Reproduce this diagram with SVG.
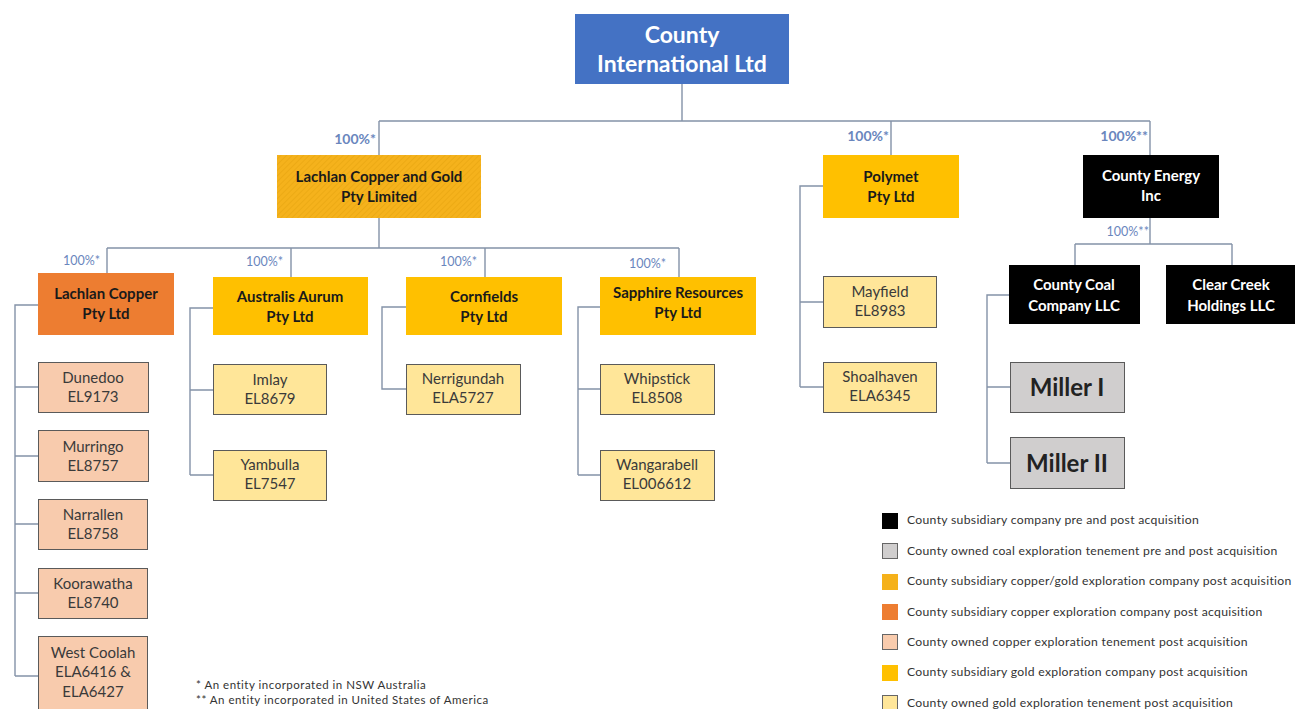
<svg xmlns="http://www.w3.org/2000/svg" width="1295" height="709" viewBox="0 0 1295 709">
<defs>
<style>
text{font-family:Lato,"Liberation Sans",sans-serif;text-anchor:middle}
.con{fill:none;stroke:#8492a8;stroke-width:1.4}
.b{font-weight:bold;font-size:15px;fill:#1a1a1a}
.w{font-weight:bold;font-size:15px;fill:#fff}
.t{font-size:15px;fill:#3a3a3a}
.pct{font-weight:bold;font-size:14px;fill:#6a86bd;text-anchor:end}
.pcs{font-size:12.5px;fill:#6a86bd;text-anchor:end}
.cu{fill:#F8CBAD;stroke:#5a5a5a;stroke-width:1}
.au{fill:#FFE699;stroke:#5a5a5a;stroke-width:1}
.co{fill:#D0CECE;stroke:#5a5a5a;stroke-width:1}
.gold{fill:#FFC000}
.blk{fill:#000}
.lg{font-size:12.2px;letter-spacing:0.3px;fill:#333;text-anchor:start}
.fn{font-size:11.5px;letter-spacing:0.5px;fill:#333;text-anchor:start}
</style>
<pattern id="hatch" width="4" height="4" patternUnits="userSpaceOnUse" patternTransform="rotate(45)">
<rect width="4" height="4" fill="#F5B21C"/>
<line x1="0" y1="0" x2="0" y2="4" stroke="#E9A712" stroke-width="1.5"/>
</pattern>
</defs>
<rect width="1295" height="709" fill="#fff"/>

<g id="connectors">
<path class="con" d="M682 84V121M379 121H1150M379 121V155M891 121V155M1150 121V155"/>
<path class="con" d="M379 218V248M107 248H679M107 248V273M291 248V277M485 248V277M679 248V277"/>
<path class="con" d="M38 305H15V676M15 387H38M15 456H38M15 524H38M15 593H38M15 676H38"/>
<path class="con" d="M213 308H190V475M190 390H213M190 475H213"/>
<path class="con" d="M406 307H382V389H406"/>
<path class="con" d="M600 307H578V475M578 389H600M578 475H600"/>
<path class="con" d="M823 186H800V387M800 302H823M800 387H823"/>
<path class="con" d="M1150 218V244M1075 244H1232M1075 244V265M1232 244V265"/>
<path class="con" d="M1009 295H987V463M987 387H1010M987 463H1010"/>
</g>

<g id="labels">
<text class="pct" x="376" y="144">100%*</text>
<text class="pct" x="889" y="141">100%*</text>
<text class="pct" x="1148" y="141">100%**</text>
<text class="pcs" x="100" y="265">100%*</text>
<text class="pcs" x="283" y="266">100%*</text>
<text class="pcs" x="477" y="266">100%*</text>
<text class="pcs" x="666" y="268">100%*</text>
<text class="pcs" x="1149" y="236">100%**</text>
</g>

<g id="county-international">
<rect x="575" y="14" width="214" height="70" fill="#4472C4"/>
<text x="682" y="43" style="font-weight:bold;font-size:23px;fill:#fff">County</text>
<text x="682" y="72" style="font-weight:bold;font-size:23px;fill:#fff">International Ltd</text>
</g>

<g id="lachlan-cg">
<rect x="277" y="155" width="204" height="63" fill="url(#hatch)"/>
<text class="b" x="379" y="182">Lachlan Copper and Gold</text>
<text class="b" x="379" y="202">Pty Limited</text>
</g>
<g id="polymet">
<rect class="gold" x="823" y="155" width="136" height="63"/>
<text class="b" x="891" y="182">Polymet</text>
<text class="b" x="891" y="202">Pty Ltd</text>
</g>
<g id="county-energy">
<rect class="blk" x="1083" y="155" width="136" height="63"/>
<text class="w" x="1151" y="181">County Energy</text>
<text class="w" x="1151" y="201">Inc</text>
</g>

<g id="lachlan-copper">
<rect x="38" y="273" width="136" height="62" fill="#ED7D31"/>
<text class="b" x="106" y="299">Lachlan Copper</text>
<text class="b" x="106" y="319">Pty Ltd</text>
</g>
<g id="australis">
<rect class="gold" x="213" y="277" width="155" height="58"/>
<text class="b" x="290" y="302">Australis Aurum</text>
<text class="b" x="290" y="322">Pty Ltd</text>
</g>
<g id="cornfields">
<rect class="gold" x="406" y="277" width="156" height="58"/>
<text class="b" x="484" y="302">Cornfields</text>
<text class="b" x="484" y="322">Pty Ltd</text>
</g>
<g id="sapphire">
<rect class="gold" x="600" y="277" width="156" height="58"/>
<text class="b" x="678" y="298">Sapphire Resources</text>
<text class="b" x="678" y="318">Pty Ltd</text>
</g>
<g id="county-coal">
<rect class="blk" x="1009" y="265" width="131" height="59"/>
<text class="w" x="1074" y="290">County Coal</text>
<text class="w" x="1074" y="311">Company LLC</text>
</g>
<g id="clear-creek">
<rect class="blk" x="1166" y="265" width="129" height="59"/>
<text class="w" x="1231" y="290">Clear Creek</text>
<text class="w" x="1231" y="311">Holdings LLC</text>
</g>

<g id="dunedoo"><rect class="cu" x="38.5" y="362.5" width="110" height="50"/><text class="t" x="93" y="383">Dunedoo</text><text class="t" x="93" y="402">EL9173</text></g>
<g id="murringo"><rect class="cu" x="38.5" y="430.5" width="110" height="51"/><text class="t" x="93" y="452">Murringo</text><text class="t" x="93" y="471">EL8757</text></g>
<g id="narrallen"><rect class="cu" x="38.5" y="499.5" width="109" height="50"/><text class="t" x="93" y="520">Narrallen</text><text class="t" x="93" y="539">EL8758</text></g>
<g id="koorawatha"><rect class="cu" x="38.5" y="568.5" width="109" height="50"/><text class="t" x="93" y="589">Koorawatha</text><text class="t" x="93" y="608">EL8740</text></g>
<g id="west-coolah"><rect class="cu" x="38.5" y="636.5" width="109" height="75"/><text class="t" x="93" y="658">West Coolah</text><text class="t" x="93" y="677">ELA6416 &amp;</text><text class="t" x="93" y="697">ELA6427</text></g>

<g id="imlay"><rect class="au" x="213.5" y="364.5" width="113" height="50"/><text class="t" x="270" y="385">Imlay</text><text class="t" x="270" y="404">EL8679</text></g>
<g id="yambulla"><rect class="au" x="213.5" y="450.5" width="113" height="50"/><text class="t" x="270" y="470">Yambulla</text><text class="t" x="270" y="489">EL7547</text></g>
<g id="nerrigundah"><rect class="au" x="406.5" y="364.5" width="114" height="50"/><text class="t" x="463" y="384">Nerrigundah</text><text class="t" x="463" y="403">ELA5727</text></g>
<g id="whipstick"><rect class="au" x="600.5" y="364.5" width="114" height="50"/><text class="t" x="657" y="384">Whipstick</text><text class="t" x="657" y="403">EL8508</text></g>
<g id="wangarabell"><rect class="au" x="600.5" y="450.5" width="114" height="50"/><text class="t" x="657" y="470">Wangarabell</text><text class="t" x="657" y="489">EL006612</text></g>
<g id="mayfield"><rect class="au" x="823.5" y="276.5" width="113" height="51"/><text class="t" x="880" y="297">Mayfield</text><text class="t" x="880" y="316">EL8983</text></g>
<g id="shoalhaven"><rect class="au" x="823.5" y="362.5" width="113" height="50"/><text class="t" x="880" y="382">Shoalhaven</text><text class="t" x="880" y="401">ELA6345</text></g>

<g id="miller-1"><rect class="co" x="1010.5" y="362.5" width="114" height="50"/><text x="1067" y="396" style="font-weight:bold;font-size:24px;fill:#222">Miller I</text></g>
<g id="miller-2"><rect class="co" x="1010.5" y="437.5" width="114" height="51"/><text x="1067" y="472" style="font-weight:bold;font-size:24px;fill:#222">Miller II</text></g>

<g id="legend">
<rect x="882" y="513" width="16" height="16" fill="#000"/>
<text class="lg" x="907" y="524">County subsidiary company pre and post acquisition</text>
<rect x="882.5" y="543.5" width="15" height="15" fill="#D0CECE" stroke="#666"/>
<text class="lg" x="907" y="555">County owned coal exploration tenement pre and post acquisition</text>
<rect x="882" y="574" width="16" height="16" fill="#F5B11A"/>
<text class="lg" x="907" y="585">County subsidiary copper/gold exploration company post acquisition</text>
<rect x="882" y="604" width="16" height="16" fill="#ED7D31"/>
<text class="lg" x="907" y="616">County subsidiary copper exploration company post acquisition</text>
<rect x="882.5" y="634.5" width="15" height="15" fill="#F8CBAD" stroke="#666"/>
<text class="lg" x="907" y="646">County owned copper exploration tenement post acquisition</text>
<rect x="882" y="665" width="16" height="16" fill="#FFC000"/>
<text class="lg" x="907" y="676">County subsidiary gold exploration company post acquisition</text>
<rect x="882.5" y="695.5" width="15" height="15" fill="#FFE699" stroke="#666"/>
<text class="lg" x="907" y="707">County owned gold exploration tenement  post acquisition</text>
</g>

<g id="footnotes">
<text class="fn" x="196" y="689">* An entity incorporated in NSW Australia</text>
<text class="fn" x="196" y="704">** An entity incorporated in United States of America</text>
</g>
</svg>
